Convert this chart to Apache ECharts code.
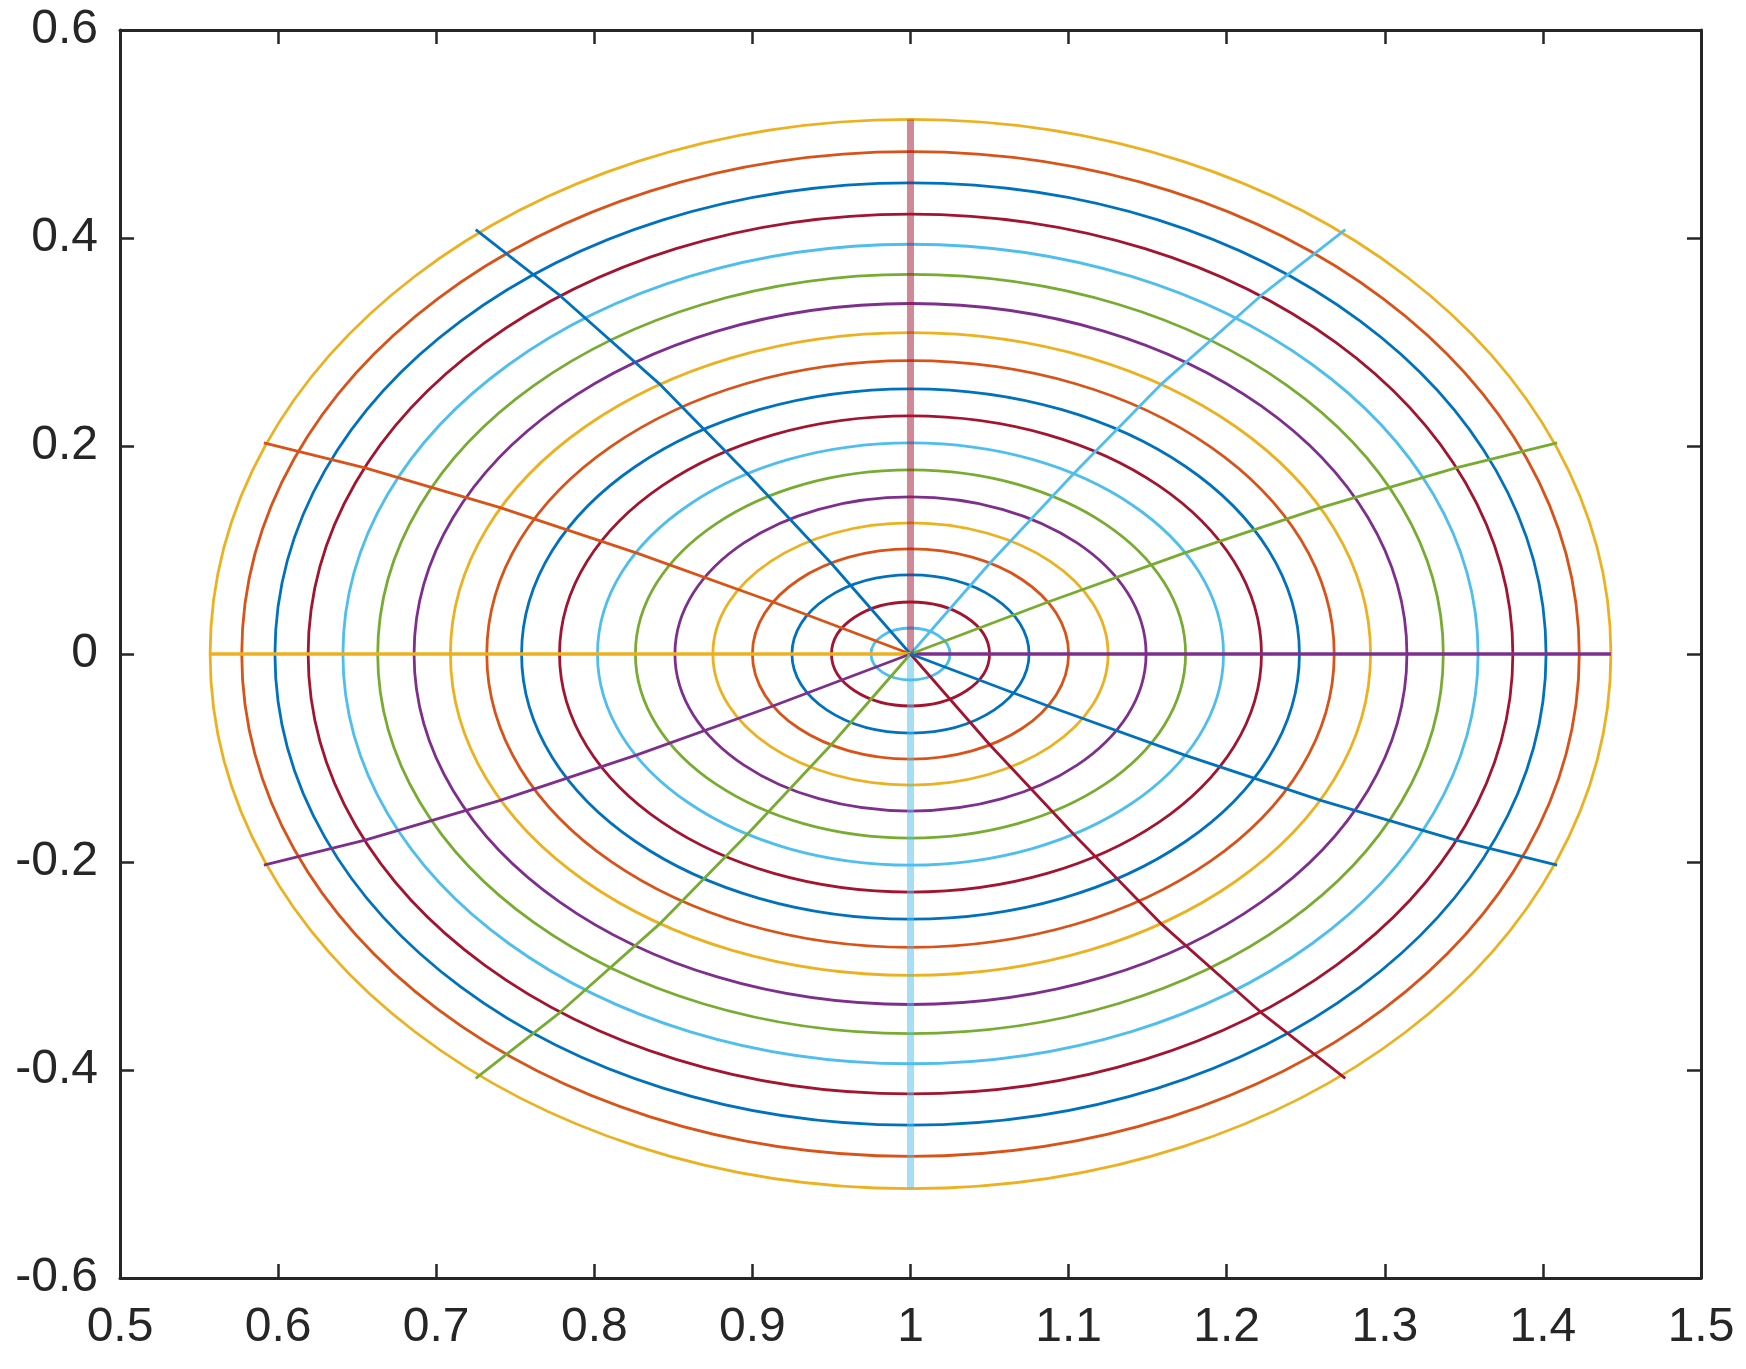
<!DOCTYPE html>
<html>
<head>
<meta charset="utf-8">
<script src="https://cdn.jsdelivr.net/npm/echarts@6/dist/echarts.min.js"></script>
<style>
html,body{margin:0;padding:0;background:#fff;}
#chart{width:1746px;height:1369px;}
</style>
</head>
<body>
<div id="chart"></div>
<script>
// ---- data ----
const xTickLabels = ['0.5','0.6','0.7','0.8','0.9','1','1.1','1.2','1.3','1.4','1.5'];
const yTickLabels = ['-0.6','-0.4','-0.2','0','0.2','0.4','0.6'];
const centre = [1, 0];
// ring semi-axes (inner to outer)
const ringRx = [0.025,0.050,0.075,0.100,0.125,0.149,0.174,0.198,0.222,0.246,0.268,0.291,0.314,0.337,0.359,0.381,0.402,0.423,0.443];
const ringRy = [0.025,0.050,0.076,0.101,0.126,0.151,0.177,0.203,0.229,0.255,0.282,0.309,0.337,0.365,0.394,0.423,0.453,0.483,0.514];
const ringColorIdx = [5,6,0,1,2,3,4,5,6,0,1,2,3,4,5,6,0,1,2];
// rays (0deg, 30deg, ... 330deg)
const ray000 = [[1,0],[1.443,0]];
const ray030 = [[1,0],[1.087,0.050],[1.173,0.097],[1.260,0.141],[1.345,0.179],[1.409,0.203]];
const ray060 = [[1,0],[1.050,0.087],[1.103,0.173],[1.159,0.260],[1.222,0.345],[1.275,0.408]];
const ray090 = [[1,0],[1,0.514]];
const ray120 = [[1,0],[0.950,0.087],[0.897,0.173],[0.841,0.260],[0.778,0.345],[0.725,0.408]];
const ray150 = [[1,0],[0.913,0.050],[0.827,0.097],[0.740,0.141],[0.655,0.179],[0.591,0.203]];
const ray180 = [[1,0],[0.557,0]];
const ray210 = [[1,0],[0.913,-0.050],[0.827,-0.097],[0.740,-0.141],[0.655,-0.179],[0.591,-0.203]];
const ray240 = [[1,0],[0.950,-0.087],[0.897,-0.173],[0.841,-0.260],[0.778,-0.345],[0.725,-0.408]];
const ray270 = [[1,0],[1,-0.514]];
const ray300 = [[1,0],[1.050,-0.087],[1.103,-0.173],[1.159,-0.260],[1.222,-0.345],[1.275,-0.408]];
const ray330 = [[1,0],[1.087,-0.050],[1.173,-0.097],[1.260,-0.141],[1.345,-0.179],[1.409,-0.203]];
const rays = [ray000,ray030,ray060,ray090,ray120,ray150,ray180,ray210,ray240,ray270,ray300,ray330];
const rayColorIdx = [3,4,5,6,0,1,2,3,4,5,6,0];

// ---- style ----
const palette = ['#0072BD','#D95319','#EDB120','#7E2F8E','#77AC30','#4DBEEE','#A2142F'];
const axisColor = '#262626';
const FONT = 'Liberation Sans, Arial, Helvetica, sans-serif';

function axisBase(pos, min, max, interval, labels, showLabel, margin) {
  return {
    type: 'value', position: pos, min: min, max: max, interval: interval,
    axisLine: {show: true, onZero: false, lineStyle: {color: axisColor, width: 3}},
    axisTick: {show: true, inside: true, length: 14, lineStyle: {color: axisColor, width: 2.5}},
    splitLine: {show: false},
    axisLabel: {
      show: showLabel, fontSize: 48, color: axisColor, fontFamily: FONT, margin: margin,
      formatter: function (v) { return labels[Math.round((v - min) / interval)]; }
    }
  };
}

const series = [];
series.push({
  type: 'custom',
  coordinateSystem: 'cartesian2d',
  xAxisIndex: 0, yAxisIndex: 0,
  data: ringRx.map((rx, i) => [centre[0], centre[1], rx, ringRy[i], i]),
  encode: {x: 0, y: 1},
  renderItem: function (params, api) {
    const c = api.coord([api.value(0), api.value(1)]);
    const s = api.size([api.value(2), api.value(3)]);
    const i = api.value(4);
    return {
      type: 'ellipse',
      shape: {cx: c[0], cy: c[1], rx: s[0], ry: s[1]},
      style: {fill: null, stroke: palette[ringColorIdx[i]], lineWidth: 2.8}
    };
  },
  silent: true,
  z: 2
});
rays.forEach((pts, k) => {
  const vertical = (k === 3 || k === 9);
  const horizontal = (k === 0 || k === 6);
  series.push({
    type: 'line',
    xAxisIndex: 0, yAxisIndex: 0,
    data: pts,
    showSymbol: false,
    symbol: 'none',
    silent: true,
    z: 3,
    lineStyle: {
      color: palette[rayColorIdx[k]],
      width: vertical ? 7 : (horizontal ? 3.6 : 2.8),
      opacity: vertical ? 0.5 : 1
    }
  });
});

const chart = echarts.init(document.getElementById('chart'), null, {renderer: 'canvas'});
chart.setOption({
  animation: false,
  backgroundColor: '#ffffff',
  grid: {left: 120, right: 45, top: 30, bottom: 91, containLabel: false},
  xAxis: [
    axisBase('bottom', 0.5, 1.5, 0.1, xTickLabels, true, 26),
    axisBase('top', 0.5, 1.5, 0.1, xTickLabels, false, 26)
  ],
  yAxis: [
    axisBase('left', -0.6, 0.6, 0.2, yTickLabels, true, 22),
    axisBase('right', -0.6, 0.6, 0.2, yTickLabels, false, 22)
  ],
  series: series
});
</script>
</body>
</html>
